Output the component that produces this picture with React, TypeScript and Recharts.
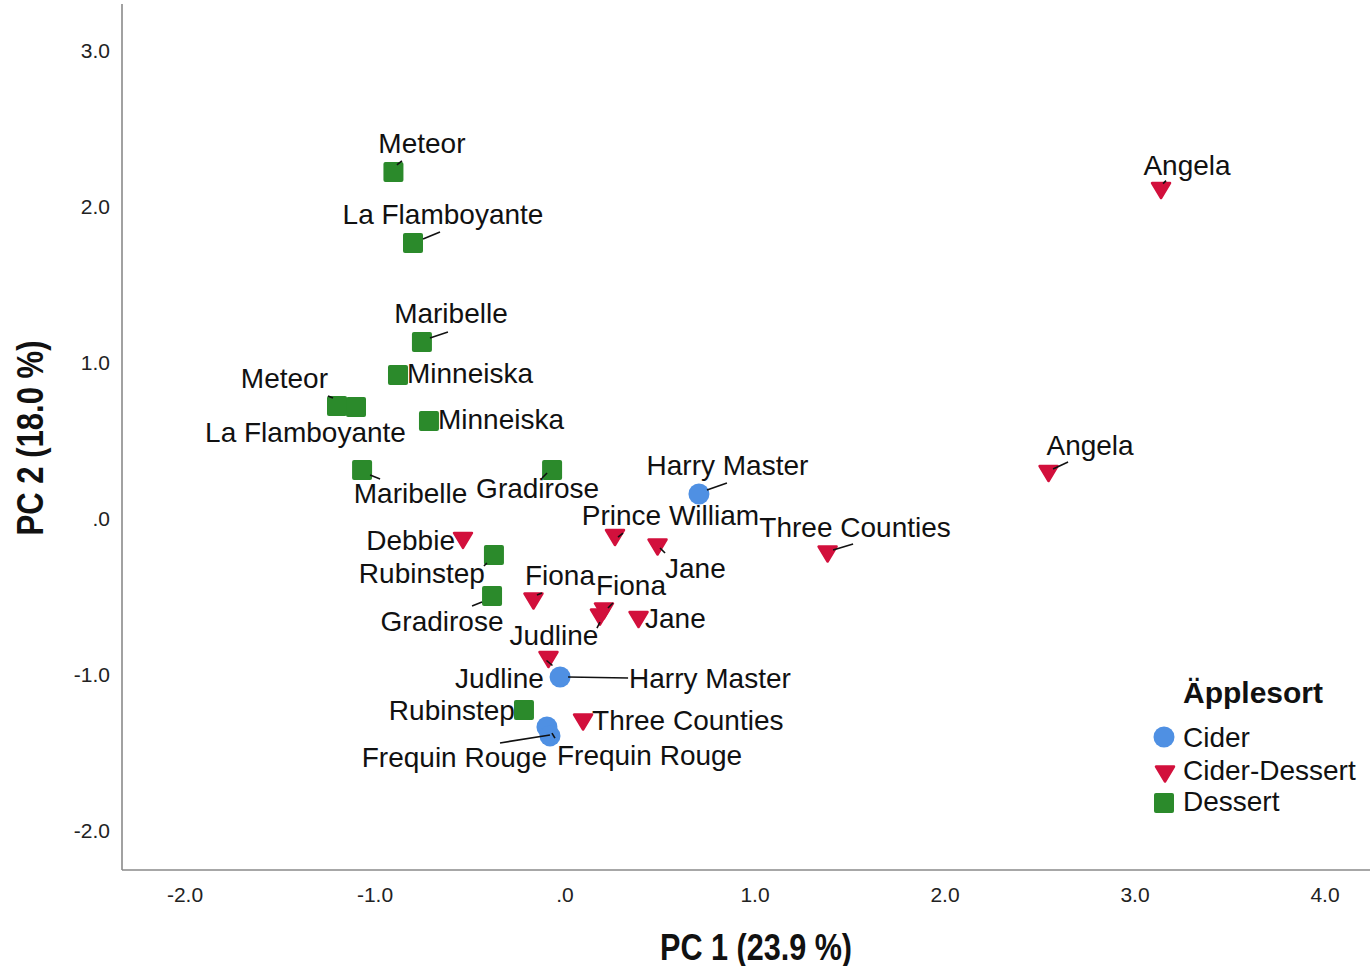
import React from 'react';
import { ScatterChart, Scatter, XAxis, YAxis, Legend, Label } from 'recharts';

// ---------- data ----------
const seriesNames = ['Cider', 'Cider-Dessert', 'Dessert'];

const ciderNames = ['Harry Master', 'Harry Master', 'Frequin Rouge', 'Frequin Rouge'];
const ciderPC1 = [0.705, -0.026, -0.095, -0.079];
const ciderPC2 = [0.154, -1.019, -1.34, -1.397];

const ciderDessertNames = ['Angela', 'Angela', 'Three Counties', 'Prince William', 'Jane', 'Debbie', 'Fiona', 'Fiona', 'Judline', 'Jane', 'Judline', 'Three Counties'];
const ciderDessertPC1 = [3.137, 2.545, 1.382, 0.263, 0.487, -0.537, -0.166, 0.205, 0.184, 0.387, -0.087, 0.095];
const ciderDessertPC2 = [2.099, 0.285, -0.231, -0.125, -0.186, -0.144, -0.532, -0.596, -0.635, -0.651, -0.907, -1.308];

const dessertNames = ['Meteor', 'La Flamboyante', 'Maribelle', 'Minneiska', 'Meteor', 'La Flamboyante', 'Minneiska', 'Maribelle', 'Gradirose', 'Rubinstep', 'Gradirose', 'Rubinstep'];
const dessertPC1 = [-0.903, -0.8, -0.753, -0.879, -1.2, -1.1, -0.716, -1.068, -0.068, -0.374, -0.384, -0.216];
const dessertPC2 = [2.218, 1.763, 1.128, 0.917, 0.718, 0.712, 0.622, 0.308, 0.308, -0.237, -0.5, -1.231];

const xTicks = [-2, -1, 0, 1, 2, 3, 4];
const yTicks = [-2, -1, 0, 1, 2, 3];

const xTitle = 'PC 1 (23.9 %)';
const yTitle = 'PC 2 (18.0 %)';
const legendTitle = 'Äpplesort';

// ---------- label layout (anchor, dx, dy, leader line) ----------
type Leader = [number, number, number, number] | null;
type Place = [string, number, number, Leader];

const ciderPlace: Place[] = [
  ['middle', 28.5, -19, [8, -4, 28, -11]],
  ['start', 69, 11, [8, 0, 68, 1]],
  ['start', 10, 38, [5, 6, 8, 11]],
  ['end', -3, 31, [0, -1, -50, 7]],
];
const ciderDessertPlace: Place[] = [
  ['middle', 26, -15.5, [2, -7, 5, -10]],
  ['middle', 41.5, -18.5, [4.5, -4.5, 19.5, -11.5]],
  ['middle', 27.5, -17, [5.5, -4, 25.5, -10]],
  ['middle', 55.5, -12.5, [3, -0.5, 8, -4.5]],
  ['start', 7.5, 31, [2.5, 1, 7.5, 6]],
  ['end', -8, 9.5, null],
  ['middle', 26.5, -16, [3.5, -6, 8.5, -8]],
  ['middle', 27, -16, [4, -3, 9, -8]],
  ['middle', -46, 28, [0, 5, -3, 11]],
  ['start', 6.5, 8.5, null],
  ['middle', -49, 28.5, [-2, 1, 4, 6]],
  ['start', 9, 8, null],
];
const dessertPlace: Place[] = [
  ['middle', 28.5, -19, [3.5, -7, 8.5, -11]],
  ['middle', 30, -19, [10, -4, 27, -11]],
  ['middle', 29, -19, [8, -4, 26, -10]],
  ['start', 9, 8, null],
  ['end', -9, -18, [-9, -10, -4, -8]],
  ['middle', -50.5, 35, null],
  ['start', 9, 8, null],
  ['middle', 48.5, 33, [8, 5, 18, 9]],
  ['middle', -14.5, 28, [-5, 3, -10, 8]],
  ['end', -9, 28, [-7, 8, -10, 11]],
  ['middle', -50, 35, [-10, 6, -20, 10]],
  ['end', -9, 10, null],
];

// ---------- styles ----------
const BLUE = '#4f90e3';
const RED = '#d2103c';
const GREEN = '#2b8a2b';
const FONT = '"Liberation Sans", Arial, Helvetica, sans-serif';
const LABEL_SIZE = 28;

const build = (names: string[], xs: number[], ys: number[], place: Place[]) =>
  names.map((n, i) => ({ x: xs[i], y: ys[i], name: n, place: place[i] }));

const ciderData = build(ciderNames, ciderPC1, ciderPC2, ciderPlace);
const ciderDessertData = build(ciderDessertNames, ciderDessertPC1, ciderDessertPC2, ciderDessertPlace);
const dessertData = build(dessertNames, dessertPC1, dessertPC2, dessertPlace);
const allData = [...dessertData, ...ciderDessertData, ...ciderData];

const fmt = (v: number) => (v === 0 ? '.0' : v.toFixed(1));

const CircleShape = (p: any) => <circle cx={p.cx} cy={p.cy} r={10.5} fill={BLUE} />;
const TriShape = (p: any) => (
  <path
    d={`M${p.cx - 9},${p.cy - 7.5} L${p.cx + 9},${p.cy - 7.5} L${p.cx},${p.cy + 7.5} Z`}
    fill={RED}
    stroke={RED}
    strokeWidth={2.5}
    strokeLinejoin="round"
  />
);
const SquareShape = (p: any) => (
  <rect x={p.cx - 10} y={p.cy - 10} width={20} height={20} rx={2} fill={GREEN} />
);

const LabelShape = (p: any) => {
  const d = p.payload || {};
  const pl: Place = d.place;
  if (!pl) return <g />;
  const [anchor, dx, dy, leader] = pl;
  return (
    <g>
      {leader && (
        <line
          x1={p.cx + leader[0]}
          y1={p.cy + leader[1]}
          x2={p.cx + leader[2]}
          y2={p.cy + leader[3]}
          stroke="#111"
          strokeWidth={1.6}
        />
      )}
      <text x={p.cx + dx} y={p.cy + dy} textAnchor={anchor as any} fontSize={LABEL_SIZE} fontFamily={FONT} fill="#111">
        {d.name}
      </text>
    </g>
  );
};

const XTick = (p: any) => (
  <text x={p.x} y={p.y + 24} textAnchor="middle" dominantBaseline="central" fontSize={21} fontFamily={FONT} fill="#222">
    {fmt(p.payload.value)}
  </text>
);
const YTick = (p: any) => (
  <text x={p.x - 12} y={p.y} textAnchor="end" dominantBaseline="central" fontSize={21} fontFamily={FONT} fill="#222">
    {fmt(p.payload.value)}
  </text>
);

const XTitle = (p: any) => {
  const vb = p.viewBox || { x: 122, y: 870, width: 1248, height: 96 };
  const cx = vb.x + vb.width / 2 + 10;
  const cy = vb.y + 77;
  return (
    <text x={cx} y={cy} textAnchor="middle" dominantBaseline="central" fontSize={36} fontWeight="bold" fontFamily={FONT} fill="#111" textLength={192} lengthAdjust="spacingAndGlyphs">
      {xTitle}
    </text>
  );
};
const YTitle = (p: any) => {
  const vb = p.viewBox || { x: 0, y: 4, width: 122, height: 866 };
  const cx = vb.x + 30;
  const cy = vb.y + vb.height / 2 + 1;
  return (
    <text x={cx} y={cy} transform={`rotate(-90 ${cx} ${cy})`} textAnchor="middle" dominantBaseline="central" fontSize={36} fontWeight="bold" fontFamily={FONT} fill="#111" textLength={195} lengthAdjust="spacingAndGlyphs">
      {yTitle}
    </text>
  );
};

const LegendContent = () => (
  <svg width={230} height={160} style={{ display: 'block' }}>
    <text x={43} y={33} fontSize={30} fontWeight="bold" fontFamily={FONT} fill="#111">{legendTitle}</text>
    <circle cx={24} cy={67} r={10.5} fill={BLUE} />
    <text x={43} y={77} fontSize={LABEL_SIZE} fontFamily={FONT} fill="#111">{seriesNames[0]}</text>
    <path d="M16,96.5 L34,96.5 L25,111.5 Z" fill={RED} stroke={RED} strokeWidth={2.5} strokeLinejoin="round" />
    <text x={43} y={110} fontSize={LABEL_SIZE} fontFamily={FONT} fill="#111">{seriesNames[1]}</text>
    <rect x={14} y={123} width={20} height={20} rx={2} fill={GREEN} />
    <text x={43} y={141} fontSize={LABEL_SIZE} fontFamily={FONT} fill="#111">{seriesNames[2]}</text>
  </svg>
);

export default function App() {
  return (
    <div style={{ position: 'absolute', left: 0, top: 0, width: 1370, height: 966, background: '#fff' }}>
      <ScatterChart width={1370} height={966} margin={{ top: 4, right: 0, bottom: 0, left: 0 }}>
        <XAxis
          type="number"
          dataKey="x"
          domain={[-2.3316, 4.2368]}
          ticks={xTicks}
          allowDataOverflow
          height={96}
          tickLine={false}
          tickSize={0}
          tickMargin={0}
          axisLine={{ stroke: '#8a8a8a', strokeWidth: 1.6 }}
          tick={<XTick />}
          interval={0}
        >
          <Label content={<XTitle />} />
        </XAxis>
        <YAxis
          type="number"
          dataKey="y"
          domain={[-2.2564, 3.2949]}
          ticks={yTicks}
          allowDataOverflow
          width={122}
          tickLine={false}
          tickSize={0}
          tickMargin={0}
          axisLine={{ stroke: '#8a8a8a', strokeWidth: 1.6 }}
          tick={<YTick />}
          interval={0}
        >
          <Label content={<YTitle />} />
        </YAxis>
        <Legend
          layout="vertical"
          align="center"
          verticalAlign="middle"
          wrapperStyle={{ left: 1140, top: 670, width: 230, height: 160 }}
          content={<LegendContent />}
        />
        <Scatter name={seriesNames[2]} data={dessertData} shape={SquareShape} isAnimationActive={false} />
        <Scatter name={seriesNames[1]} data={ciderDessertData} shape={TriShape} isAnimationActive={false} />
        <Scatter name={seriesNames[0]} data={ciderData} shape={CircleShape} isAnimationActive={false} />
        <Scatter name="labels" data={allData} shape={LabelShape} isAnimationActive={false} legendType="none" />
      </ScatterChart>
    </div>
  );
}
